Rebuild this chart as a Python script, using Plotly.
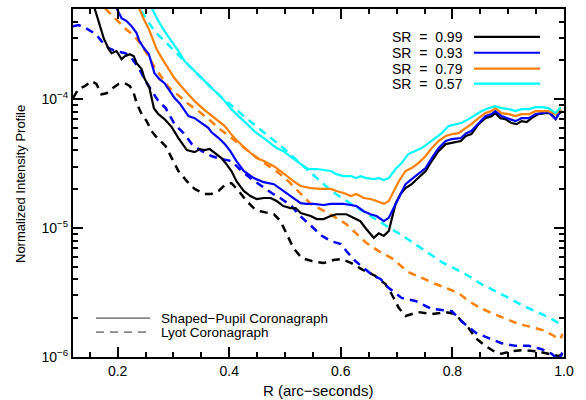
import plotly.graph_objects as go

# ---------------- data ----------------
sr_labels = ["SR = 0.99", "SR = 0.93", "SR = 0.79", "SR = 0.57"]
sr_colors = ["#000000", "#0000FF", "#FF7F00", "#00FFFF"]

# Shaped-pupil coronagraph (solid)
sp_099_x = [0.153,0.159,0.168,0.175,0.184,0.189,0.198,0.207,0.213,0.222,
            0.229,0.234,0.243,0.248,0.257,0.261,0.265,0.273,0.284,0.297,
            0.309,0.324,0.338,0.347,0.356,0.365,0.374,0.386,0.395,0.404,
            0.413,0.426,0.438,0.449,0.462,0.474,0.485,0.497,0.510,0.519,
            0.528,0.537,0.546,0.557,0.569,0.582,0.592,0.610,0.623,0.635,
            0.646,0.659,0.668,0.677,0.686,0.698,0.707,0.716,0.727,0.739,
            0.752,0.763,0.775,0.788,0.799,0.815,0.824,0.834,0.847,0.859,
            0.870,0.877,0.886,0.895,0.906,0.915,0.924,0.933,0.942,0.954,
            0.967,0.976,0.985,0.990,0.997]
sp_099_y = [6.1e-4,5.07e-4,3.81e-4,2.97e-4,2.44e-4,2.27e-4,2.36e-4,2.04e-4,2.15e-4,2.23e-4,
            2.15e-4,1.90e-4,1.71e-4,1.45e-4,1.22e-4,1.02e-4,8.5e-5,7.65e-5,7.0e-5,6.07e-5,
            4.99e-5,4.02e-5,3.88e-5,4.10e-5,4.02e-5,4.10e-5,3.81e-5,3.49e-5,3.13e-5,2.77e-5,
            2.31e-5,1.94e-5,1.77e-5,1.68e-5,1.71e-5,1.71e-5,1.62e-5,1.48e-5,1.43e-5,1.43e-5,
            1.31e-5,1.28e-5,1.24e-5,1.175e-5,1.175e-5,1.24e-5,1.28e-5,1.28e-5,1.20e-5,1.13e-5,
            9.8e-6,8.4e-6,9.1e-6,8.7e-6,9.5e-6,1.54e-5,1.84e-5,2.04e-5,2.19e-5,2.44e-5,
            2.77e-5,3.31e-5,3.95e-5,4.48e-5,4.56e-5,4.73e-5,5.17e-5,5.35e-5,6.40e-5,7.12e-5,
            7.38e-5,7.79e-5,7.12e-5,7.0e-5,6.52e-5,6.40e-5,6.75e-5,6.63e-5,7.12e-5,7.65e-5,
            7.79e-5,7.79e-5,7.0e-5,7.65e-5,8.07e-5]

sp_093_x = [0.191,0.198,0.207,0.216,0.225,0.234,0.239,0.247,0.256,0.261,
            0.266,0.275,0.284,0.291,0.297,0.302,0.311,0.320,0.327,0.338,
            0.351,0.363,0.368,0.381,0.392,0.402,0.413,0.426,0.444,0.462,
            0.480,0.492,0.503,0.515,0.528,0.539,0.551,0.569,0.582,0.592,
            0.605,0.618,0.628,0.641,0.653,0.664,0.677,0.686,0.695,0.704,
            0.716,0.727,0.739,0.752,0.763,0.775,0.788,0.799,0.815,0.825,
            0.834,0.847,0.859,0.870,0.877,0.888,0.901,0.913,0.924,0.937,
            0.949,0.960,0.972,0.985,0.994]
sp_093_y = [6.1e-4,5.07e-4,4.25e-4,4.03e-4,3.68e-4,3.25e-4,2.82e-4,2.49e-4,2.23e-4,1.87e-4,
            1.59e-4,1.43e-4,1.33e-4,1.20e-4,1.09e-4,1.02e-4,9.31e-5,8.07e-5,7.38e-5,7.12e-5,
            6.52e-5,5.96e-5,5.55e-5,4.99e-5,4.48e-5,3.95e-5,3.31e-5,2.77e-5,2.44e-5,2.27e-5,
            2.19e-5,2.01e-5,1.84e-5,1.71e-5,1.56e-5,1.54e-5,1.54e-5,1.51e-5,1.54e-5,1.54e-5,
            1.54e-5,1.51e-5,1.48e-5,1.35e-5,1.28e-5,1.24e-5,1.13e-5,1.20e-5,1.43e-5,1.71e-5,
            2.19e-5,2.40e-5,2.62e-5,2.92e-5,3.49e-5,4.17e-5,4.73e-5,4.90e-5,4.99e-5,5.45e-5,
            5.65e-5,6.52e-5,7.38e-5,7.65e-5,8.07e-5,7.38e-5,7.0e-5,6.75e-5,7.12e-5,7.12e-5,
            7.65e-5,7.79e-5,7.93e-5,7.0e-5,8.07e-5]

sp_079_x = [0.230,0.238,0.247,0.256,0.263,0.270,0.279,0.291,0.302,0.315,
            0.327,0.338,0.356,0.374,0.392,0.402,0.413,0.426,0.438,0.449,
            0.462,0.480,0.492,0.503,0.515,0.528,0.546,0.564,0.582,0.592,
            0.605,0.618,0.628,0.641,0.653,0.664,0.677,0.686,0.695,0.704,
            0.716,0.727,0.739,0.752,0.763,0.775,0.788,0.799,0.811,0.824,
            0.834,0.847,0.859,0.870,0.877,0.888,0.901,0.913,0.924,0.937,
            0.949,0.960,0.972,0.985,0.994]
sp_079_y = [6.1e-4,5.07e-4,4.17e-4,3.49e-4,2.87e-4,2.44e-4,2.08e-4,1.74e-4,1.45e-4,1.24e-4,
            1.09e-4,9.65e-5,8.22e-5,7.12e-5,6.18e-5,5.45e-5,4.81e-5,4.25e-5,3.81e-5,3.49e-5,
            3.31e-5,3.02e-5,2.77e-5,2.53e-5,2.31e-5,2.12e-5,2.04e-5,2.01e-5,2.01e-5,1.94e-5,
            1.87e-5,1.77e-5,1.84e-5,1.71e-5,1.68e-5,1.62e-5,1.54e-5,1.62e-5,1.94e-5,2.31e-5,
            2.77e-5,2.92e-5,3.19e-5,3.62e-5,4.17e-5,4.73e-5,5.17e-5,5.35e-5,5.45e-5,5.96e-5,
            6.40e-5,7.12e-5,7.79e-5,8.07e-5,8.52e-5,7.79e-5,7.65e-5,7.38e-5,7.65e-5,7.65e-5,
            8.07e-5,8.07e-5,8.07e-5,7.65e-5,8.37e-5]

sp_057_x = [0.252,0.261,0.273,0.284,0.297,0.309,0.320,0.333,0.345,0.356,
            0.368,0.381,0.392,0.402,0.413,0.426,0.438,0.449,0.462,0.474,
            0.485,0.497,0.510,0.521,0.533,0.542,0.557,0.569,0.582,0.592,
            0.605,0.618,0.628,0.635,0.646,0.659,0.668,0.677,0.686,0.698,
            0.709,0.721,0.734,0.745,0.757,0.770,0.781,0.793,0.806,0.816,
            0.829,0.842,0.852,0.865,0.877,0.888,0.901,0.913,0.924,0.937,
            0.949,0.960,0.972,0.985,0.994]
sp_057_y = [6.1e-4,5.07e-4,4.03e-4,3.37e-4,2.82e-4,2.36e-4,1.97e-4,1.74e-4,1.56e-4,1.38e-4,
            1.22e-4,1.09e-4,9.65e-5,8.52e-5,7.65e-5,6.75e-5,5.96e-5,5.45e-5,4.99e-5,4.56e-5,
            4.17e-5,3.95e-5,3.62e-5,3.31e-5,3.02e-5,2.87e-5,2.87e-5,2.82e-5,2.77e-5,2.62e-5,
            2.53e-5,2.53e-5,2.44e-5,2.53e-5,2.44e-5,2.40e-5,2.44e-5,2.36e-5,2.44e-5,2.87e-5,
            3.19e-5,3.75e-5,3.95e-5,4.17e-5,4.56e-5,4.99e-5,5.45e-5,6.18e-5,6.40e-5,6.52e-5,
            7.0e-5,7.65e-5,8.07e-5,8.52e-5,8.83e-5,8.52e-5,8.37e-5,8.07e-5,8.37e-5,8.37e-5,
            8.67e-5,8.67e-5,8.52e-5,7.79e-5,8.67e-5]

# Lyot coronagraph (dashed)
ly_099_x = [0.120,0.130,0.141,0.153,0.162,0.171,0.180,0.189,0.202,0.213,
            0.222,0.229,0.234,0.243,0.252,0.261,0.268,0.277,0.286,0.297,
            0.309,0.324,0.338,0.356,0.368,0.381,0.392,0.404,0.417,0.431,
            0.444,0.456,0.471,0.480,0.492,0.503,0.515,0.530,0.548,0.569,
            0.587,0.601,0.619,0.637,0.650,0.662,0.673,0.680,0.691,0.704,
            0.716,0.739,0.763,0.788,0.806,0.816,0.829,0.842,0.859,0.877,
            0.888,0.906,0.924,0.949,0.972,0.990,0.997]
ly_099_y = [1.02e-4,1.20e-4,1.26e-4,1.38e-4,1.31e-4,1.09e-4,1.11e-4,1.20e-4,1.31e-4,1.33e-4,
            1.26e-4,1.11e-4,9.31e-5,7.65e-5,6.75e-5,5.65e-5,5.17e-5,4.73e-5,4.32e-5,3.49e-5,
            2.77e-5,2.31e-5,2.01e-5,1.84e-5,1.84e-5,1.94e-5,2.15e-5,2.23e-5,1.94e-5,1.62e-5,
            1.43e-5,1.35e-5,1.31e-5,1.28e-5,1.13e-5,8.98e-6,7.0e-6,5.85e-6,5.55e-6,5.35e-6,
            5.65e-6,5.75e-6,5.35e-6,4.81e-6,4.48e-6,4.25e-6,3.88e-6,3.68e-6,3.08e-6,2.40e-6,
            2.08e-6,2.23e-6,2.15e-6,2.23e-6,2.15e-6,1.90e-6,1.68e-6,1.40e-6,1.22e-6,1.09e-6,
            1.06e-6,1.11e-6,1.13e-6,1.11e-6,1.06e-6,1.02e-6,1.04e-6]

ly_093_x = [0.120,0.130,0.143,0.161,0.171,0.184,0.196,0.214,0.225,0.238,
            0.250,0.261,0.273,0.286,0.302,0.320,0.333,0.351,0.368,0.386,
            0.404,0.422,0.440,0.458,0.476,0.494,0.512,0.524,0.537,0.555,
            0.566,0.582,0.600,0.610,0.626,0.641,0.659,0.671,0.686,0.709,
            0.734,0.763,0.799,0.816,0.842,0.865,0.888,0.913,0.937,0.960,
            0.978,0.990,0.997]
ly_093_y = [3.68e-4,3.75e-4,3.55e-4,3.19e-4,2.82e-4,2.49e-4,2.36e-4,2.27e-4,2.08e-4,1.74e-4,
            1.38e-4,1.15e-4,9.65e-5,8.52e-5,6.40e-5,5.35e-5,4.48e-5,3.95e-5,3.62e-5,3.43e-5,
            3.31e-5,2.77e-5,2.40e-5,2.12e-5,1.87e-5,1.68e-5,1.48e-5,1.28e-5,1.13e-5,9.5e-6,
            8.7e-6,7.93e-6,7.51e-6,6.63e-6,5.55e-6,4.90e-6,4.25e-6,4.03e-6,3.43e-6,2.87e-6,
            2.72e-6,2.36e-6,2.27e-6,1.90e-6,1.54e-6,1.40e-6,1.28e-6,1.22e-6,1.22e-6,1.15e-6,
            1.06e-6,0.95e-6,1.08e-6]

ly_079_x = [0.161,0.177,0.195,0.213,0.230,0.243,0.256,0.266,0.279,0.291,
            0.309,0.327,0.345,0.363,0.381,0.399,0.417,0.435,0.453,0.471,
            0.489,0.506,0.528,0.546,0.564,0.582,0.592,0.610,0.628,0.646,
            0.668,0.691,0.721,0.745,0.770,0.793,0.811,0.829,0.847,0.870,
            0.895,0.919,0.942,0.967,0.985,0.994,0.997]
ly_079_y = [6.1e-4,5.07e-4,4.25e-4,3.55e-4,3.08e-4,2.62e-4,2.12e-4,1.77e-4,1.48e-4,1.24e-4,
            1.07e-4,9.15e-5,8.07e-5,7.0e-5,5.96e-5,5.17e-5,4.56e-5,3.95e-5,3.43e-5,3.02e-5,
            2.67e-5,2.31e-5,1.84e-5,1.54e-5,1.40e-5,1.28e-5,1.20e-5,1.07e-5,8.98e-6,7.65e-6,
            6.63e-6,5.85e-6,4.56e-6,4.10e-6,3.68e-6,3.37e-6,3.13e-6,2.72e-6,2.44e-6,2.19e-6,
            1.97e-6,1.80e-6,1.71e-6,1.59e-6,1.43e-6,1.38e-6,1.51e-6]

ly_057_x = [0.232,0.239,0.252,0.266,0.284,0.302,0.320,0.338,0.356,0.374,
            0.392,0.408,0.426,0.444,0.462,0.480,0.497,0.515,0.537,0.560,
            0.583,0.605,0.628,0.650,0.673,0.691,0.709,0.734,0.757,0.781,
            0.806,0.829,0.852,0.877,0.901,0.924,0.949,0.972,0.990,0.997]
ly_057_y = [6.1e-4,5.07e-4,4.17e-4,3.37e-4,2.82e-4,2.36e-4,1.97e-4,1.65e-4,1.38e-4,1.15e-4,
            9.82e-5,8.67e-5,7.38e-5,6.40e-5,5.55e-5,4.81e-5,4.17e-5,3.55e-5,2.92e-5,2.36e-5,
            1.94e-5,1.68e-5,1.45e-5,1.26e-5,1.09e-5,9.8e-6,8.83e-6,7.51e-6,6.40e-6,5.45e-6,
            4.81e-6,4.25e-6,3.68e-6,3.25e-6,2.87e-6,2.53e-6,2.27e-6,2.04e-6,1.84e-6,1.74e-6]

x_tick_vals = [0.2, 0.4, 0.6, 0.8, 1.0]
x_tick_text = ["0.2", "0.4", "0.6", "0.8", "1.0"]
y_tick_vals = [1e-6, 1e-5, 1e-4]
y_tick_text = ["10<sup>−6</sup>", "10<sup>−5</sup>", "10<sup>−4</sup>"]
y_minor_vals = [m * d for d in (1e-6, 1e-5) for m in range(2, 10)] + [2e-4, 3e-4, 4e-4, 5e-4]
x_minor_vals = [0.15, 0.25, 0.3, 0.35, 0.45, 0.5, 0.55, 0.65, 0.7, 0.75, 0.85, 0.9, 0.95]

x_title = "R (arc−seconds)"
y_title = "Normalized Intensity Profile"
style_labels = ["Shaped−Pupil Coronagraph", "Lyot Coronagraph"]

# ---------------- figure ----------------
FONT = "Liberation Sans, Arial, sans-serif"
fig = go.Figure()

solid = [(sp_099_x, sp_099_y), (sp_093_x, sp_093_y), (sp_079_x, sp_079_y), (sp_057_x, sp_057_y)]
dashed = [(ly_099_x, ly_099_y), (ly_093_x, ly_093_y), (ly_079_x, ly_079_y), (ly_057_x, ly_057_y)]

for (xs, ys), col in zip(dashed, sr_colors):
    fig.add_trace(go.Scatter(x=xs, y=ys, mode="lines", showlegend=False,
                             line=dict(color=col, width=2.5, dash="8px,6px")))
for (xs, ys), col in zip(solid, sr_colors):
    fig.add_trace(go.Scatter(x=xs, y=ys, mode="lines", showlegend=False,
                             line=dict(color=col, width=2.2)))

fig.update_layout(
    width=586, height=400,
    margin=dict(l=73, r=22, t=7, b=43),
    paper_bgcolor="white", plot_bgcolor="white",
    font=dict(family=FONT, size=14, color="black"),
    showlegend=False,
)
fig.update_xaxes(
    range=[0.12, 1.0], showgrid=False, zeroline=False,
    showline=True, linecolor="black", linewidth=2, mirror="ticks",
    ticks="inside", ticklen=10, tickwidth=1.5, tickcolor="black",
    tickvals=x_tick_vals, ticktext=x_tick_text,
    tickfont=dict(size=14, family=FONT),
    minor=dict(tickvals=x_minor_vals, ticks="inside", ticklen=5, tickwidth=1.5, tickcolor="black"),
)
fig.update_yaxes(
    type="log", range=[-6, -3.301], showgrid=False, zeroline=False,
    showline=True, linecolor="black", linewidth=2, mirror="ticks",
    ticks="inside", ticklen=10, tickwidth=1.5, tickcolor="black",
    tickvals=y_tick_vals, ticktext=y_tick_text,
    tickfont=dict(size=14, family=FONT),
    minor=dict(tickvals=y_minor_vals, ticks="inside", ticklen=5, tickwidth=1.5, tickcolor="black"),
)

def px2paper_x(px):
    return (px - 73) / 491.0

def px2paper_y(py):
    return (357 - py) / 350.0

annotations = [
    dict(text=x_title, x=px2paper_x(318), y=px2paper_y(391), xref="paper", yref="paper",
         showarrow=False, font=dict(size=15, family=FONT), xanchor="center", yanchor="middle"),
    dict(text=y_title, x=px2paper_x(21), y=px2paper_y(183), xref="paper", yref="paper", textangle=-90,
         showarrow=False, font=dict(size=13, family=FONT), xanchor="center", yanchor="middle"),
]
shapes = []

# SR legend (top right)
sr_rows = [35, 51, 67, 82]
for lab, col, py in zip(sr_labels, sr_colors, sr_rows):
    annotations.append(dict(text=lab.replace(" = ", "  =  "), x=px2paper_x(465), y=px2paper_y(py),
                            xref="paper", yref="paper", showarrow=False, xanchor="right",
                            yanchor="middle", font=dict(size=14, family=FONT)))
    shapes.append(dict(type="line", xref="paper", yref="paper",
                       x0=px2paper_x(474), x1=px2paper_x(540), y0=px2paper_y(py), y1=px2paper_y(py),
                       line=dict(color=col, width=2.2)))

# line-style legend (bottom left)
style_rows = [318, 332]
style_dash = ["solid", "8px,6px"]
for lab, py, dsh in zip(style_labels, style_rows, style_dash):
    annotations.append(dict(text=lab, x=px2paper_x(159), y=px2paper_y(py), xref="paper", yref="paper",
                            showarrow=False, xanchor="left", yanchor="middle",
                            font=dict(size=13.5, family=FONT)))
    shapes.append(dict(type="line", xref="paper", yref="paper",
                       x0=px2paper_x(96), x1=px2paper_x(150), y0=px2paper_y(py), y1=px2paper_y(py),
                       line=dict(color="#888888", width=1.8, dash=dsh)))

fig.update_layout(annotations=annotations, shapes=shapes)
fig.write_html("out.html", config={"displayModeBar": False},
               post_script="document.body.style.margin='0';")
